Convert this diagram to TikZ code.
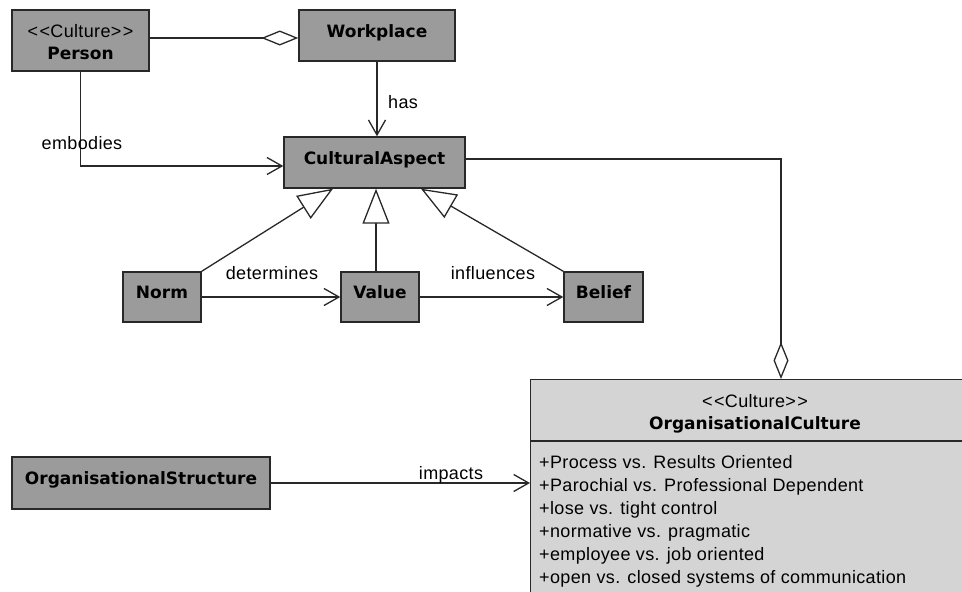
\documentclass[tikz,border=0pt]{standalone}
\usepackage{fontspec}
\setmainfont{Liberation Sans}[LetterSpace=2]
\newfontfamily\headfont{DejaVu Sans}
\usetikzlibrary{arrows.meta}

\definecolor{boxgrey}{RGB}{155,155,155}
\definecolor{lightgrey}{RGB}{212,212,212}
\definecolor{edge}{RGB}{40,40,40}

\newcommand{\stereo}[1]{<\kern1.5pt<#1>\kern1.5pt>}

\begin{document}
\begin{tikzpicture}[x=1pt,y=-1pt,
  box/.style={draw=edge, fill=boxgrey, line width=1.4pt, inner sep=0pt,
    font=\headfont\bfseries\fontsize{17}{22}\selectfont},
  cls/.style={box, text height=13pt, text depth=10pt},
  lbl/.style={inner sep=0pt, font=\fontsize{18}{22}\selectfont},
  boldlbl/.style={inner sep=0pt, font=\headfont\bfseries\fontsize{17}{22}\selectfont},
  conn/.style={draw=edge, line width=1.3pt},
  assoc/.style={conn, -{Straight Barb[length=15pt,width=17pt]}},
  gen/.style={conn, -{Triangle[fill=white,length=35pt,width=27pt]}},
  aggr/.style={conn, -{Diamond[fill=white,length=37pt,width=15pt]}},
]
\useasboundingbox (0,0) rectangle (962,592);

% routing helpers
\coordinate (yPW) at (0,38);
\coordinate (yEmb) at (0,166);
\coordinate (yCA) at (0,159);
\coordinate (yDiv) at (0,441);
\coordinate (xOC) at (781,0);
\coordinate (xN) at (333,0);
\coordinate (xV) at (376,0);
\coordinate (xB) at (421,0);

% classes
\node[box, minimum width=137pt, minimum height=61pt] (Person) at (80.5,40.5) {};
\node[lbl, anchor=base] (personStereo) at (80.5,37) {\stereo{Culture}};
\node[boldlbl, anchor=base] (personName) at (80.5,59) {Person};
\node[cls, minimum width=156pt, minimum height=51pt] (Workplace) at (377,35.5) {Workplace};
\node[cls, minimum width=181pt, minimum height=51pt] (CA) at (374.5,162.5) {CulturalAspect};
\node[cls, minimum width=78pt, minimum height=50pt] (Norm) at (162,297) {Norm};
\node[cls, minimum width=78pt, minimum height=50pt] (Value) at (380,297) {Value};
\node[cls, minimum width=79pt, minimum height=50pt] (Belief) at (603.5,297) {Belief};
\node[cls, minimum width=258pt, minimum height=52pt] (OrgStructure) at (141,483) {OrganisationalStructure};

% organisational culture class with its attribute compartment
\node[draw=edge, fill=lightgrey, line width=1.4pt, inner sep=0pt, anchor=north west,
  minimum width=460pt, minimum height=260pt] (OrgCulture) at (530,379) {};
\draw[conn] (OrgCulture.west |- yDiv) -- (OrgCulture.east |- yDiv);
\node[lbl, anchor=base] (ocStereo) at (755,407) {\stereo{Culture}};
\node[boldlbl, anchor=base] (ocName) at (755,429) {OrganisationalCulture};
\foreach \t [count=\i] in {+Process vs. Results Oriented,
  +Parochial vs. Professional Dependent,
  +lose vs. tight control,
  +normative vs. pragmatic,
  +employee vs. job oriented,
  +open vs. closed systems of communication}
  \node[lbl, anchor=base west] (attr\i) at (539,445+23*\i) {\t};

% associations
\draw[aggr] (Person.east |- yPW) -- (Workplace.west |- yPW);
\draw[assoc] (Workplace.south) -- (Workplace.south |- CA.north);
\node[lbl, anchor=base west] (hasLbl) at (388,108) {has};
\draw[assoc] (Person.south) |- (CA.west |- yEmb);
\node[lbl, anchor=base] (embLbl) at (82,149) {embodies};
\draw[aggr] (CA.east |- yCA) -| (xOC |- OrgCulture.north);

% generalisations
\draw[gen] (Norm.north east) -- (xN |- CA.south);
\draw[gen] (xV |- Value.north) -- (xV |- CA.south);
\draw[gen] (Belief.north west) -- (xB |- CA.south);

\draw[assoc] (Norm.east) -- (Value.west);
\node[lbl, anchor=base] (detLbl) at (272,279) {determines};
\draw[assoc] (Value.east) -- (Belief.west);
\node[lbl, anchor=base] (infLbl) at (493,279) {influences};

\draw[assoc] (OrgStructure.east) -- (OrgCulture.west |- OrgStructure.east);
\node[lbl, anchor=base] (impLbl) at (451,479) {impacts};
\end{tikzpicture}
\end{document}
